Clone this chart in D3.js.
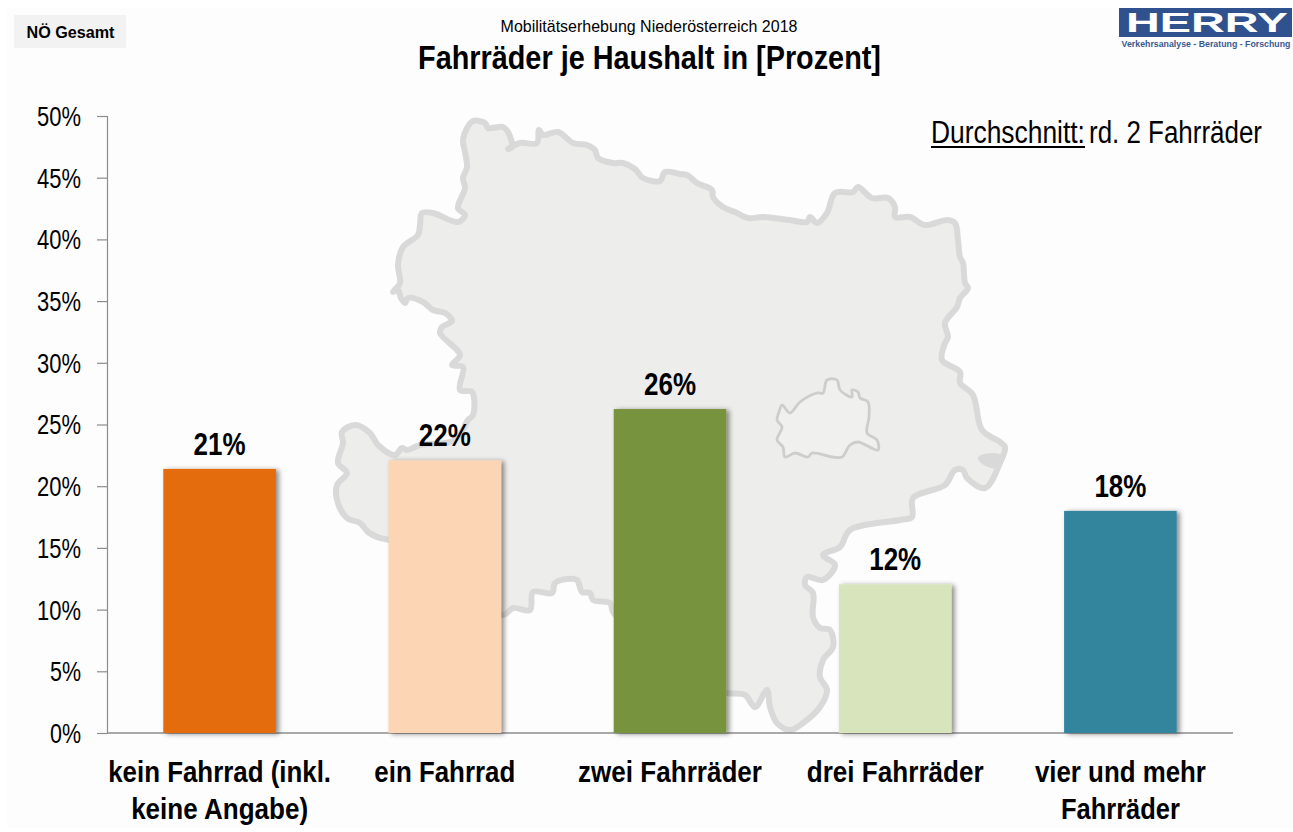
<!DOCTYPE html>
<html><head><meta charset="utf-8">
<script src="https://cdn.jsdelivr.net/npm/d3@7"></script>
<style>html,body{margin:0;padding:0;background:#fff}svg{display:block}text{font-family:"Liberation Sans",Arial,sans-serif;fill:#000}</style>
</head><body><svg id="c" width="1293" height="832"></svg>
<script>
const categories=[["kein Fahrrad (inkl.","keine Angabe)"],["ein Fahrrad"],["zwei Fahrräder"],["drei Fahrräder"],["vier und mehr","Fahrräder"]];
const values=[21.4,22.1,26.25,12.05,18.0];
const valueLabels=["21%","22%","26%","12%","18%"];
const barColors=["#e46c0a","#fcd5b5","#77933c","#d7e4bc","#31859c"];
const yTicks=[0,5,10,15,20,25,30,35,40,45,50];
const stateOutline=[[467,128],[473,121],[485,123],[488,128],[503,127],[508,132],[512,147],[508,149],[520,143],[537,143],[539,130],[543,135],[558,132],[573,143],[587,145],[595,150],[598,158],[613,163],[623,163],[635,169],[643,178],[660,181],[665,172],[680,174],[687,175],[697,183],[712,190],[713,197],[723,207],[735,212],[748,218],[763,217],[790,220],[807,222],[810,217],[817,223],[827,213],[835,193],[853,192],[858,187],[872,198],[888,198],[895,207],[895,217],[910,217],[925,225],[947,220],[955,223],[958,240],[960,257],[963,263],[965,283],[968,288],[960,298],[957,307],[945,323],[948,337],[945,343],[942,360],[960,372],[960,383],[973,395],[982,430],[1000,442],[1005,447],[1000,463],[985,488],[967,478],[963,470],[955,470],[945,485],[913,498],[912,517],[900,520],[850,530],[840,547],[823,555],[835,565],[823,580],[807,577],[805,585],[813,593],[813,617],[820,628],[830,630],[833,647],[823,660],[820,677],[827,690],[820,707],[803,723],[790,730],[777,723],[770,707],[767,690],[755,707],[745,695],[727,693],[680,680],[640,640],[613,612],[610,603],[593,600],[590,593],[582,592],[577,580],[567,579],[555,583],[552,593],[533,592],[530,610],[513,608],[503,615],[450,580],[389,540],[380,538],[368,532],[360,523],[347,518],[337,500],[337,485],[347,473],[338,463],[343,443],[342,432],[355,425],[370,433],[378,445],[395,455],[402,448],[407,450],[420,445],[455,440],[468,420],[473,415],[472,392],[460,390],[463,367],[452,365],[460,355],[440,333],[442,327],[452,321],[445,313],[433,310],[423,302],[408,298],[405,303],[401,298],[398,290],[393,292],[400,283],[398,265],[403,247],[418,235],[420,225],[422,213],[433,213],[458,222],[465,215],[458,208],[465,188],[463,178],[467,167],[465,152],[463,140]];
const viennaOutline=[[782,405],[790,413],[800,402],[817,393],[823,393],[827,380],[837,380],[840,390],[852,397],[852,390],[858,392],[860,398],[868,402],[869,417],[867,433],[877,440],[878,450],[858,442],[850,445],[842,457],[833,457],[812,453],[808,457],[795,453],[785,457],[783,447],[777,440],[782,427],[777,420],[779,412]];
const bratislavaBlob=[[980,458],[999,456],[998,466],[986,464]];

const svg=d3.select("#c");
const defs=svg.append("defs");
const f=defs.append("filter").attr("id","sh").attr("x","-10%").attr("y","-5%").attr("width","125%").attr("height","110%");
f.append("feDropShadow").attr("dx",3).attr("dy",1).attr("stdDeviation",2.8).attr("flood-color","#000").attr("flood-opacity",.45);

svg.append("rect").attr("width",1293).attr("height",832).attr("fill","#fff");
svg.append("rect").attr("x",7).attr("y",8).attr("width",1286).attr("height",820).attr("fill","#fdfdfd");

const x=d3.scaleBand().domain(d3.range(5)).range([107,1233]).paddingInner(0.5).paddingOuter(0.25);
const y=d3.scaleLinear().domain([0,50]).range([733,116]);

const line=d3.line().curve(d3.curveCatmullRomClosed.alpha(0.5));
const map=svg.append("g").attr("stroke-linejoin","round");
map.append("path").attr("d",line(stateOutline)).attr("fill","#edeeeb").attr("stroke","#d9d9d9").attr("stroke-width",6);
map.append("path").attr("d",line(viennaOutline)).attr("fill","#f0f0ef").attr("stroke","#cdcdcd").attr("stroke-width",2.8);
map.append("path").attr("d",line(bratislavaBlob)).attr("fill","#d9d9d9").attr("stroke","#d9d9d9").attr("stroke-width",4);

// Squeezes a text horizontally to its reference width, about its own anchor point.
function squeeze(sel,px,py,len){
  const nat=sel.node().getComputedTextLength();
  sel.attr("x",0).attr("y",0).attr("transform",`translate(${px},${py}) scale(${len/nat},1)`);
  return sel;
}
function label(g,px,py,str,o){
  const t=g.append("text").attr("text-anchor",o.anchor||"middle")
   .attr("font-size",o.size).attr("font-weight",o.weight||"normal").text(str);
  return squeeze(t,px,py,o.len);
}

const axisY=d3.axisLeft(y).tickValues(yTicks).tickSize(10).tickPadding(16).tickFormat(d=>d+"%");
const gy=svg.append("g").attr("transform","translate(107,0)").call(axisY);
gy.selectAll("path,line").attr("stroke","#8c8c8c").attr("stroke-width",1.2);
gy.selectAll("text").attr("font-size",27).attr("dy","0.35em").each(function(d){
  squeeze(d3.select(this),-26,0,d<10?31:44);
});
svg.append("line").attr("x1",107).attr("x2",1233).attr("y1",y(0)).attr("y2",y(0)).attr("stroke","#8c8c8c").attr("stroke-width",1.4);

const bars=svg.append("g");
bars.selectAll("rect").data(values).join("rect")
 .attr("x",(d,i)=>x(i)).attr("y",d=>y(d)).attr("width",x.bandwidth()).attr("height",d=>y(0)-y(d))
 .attr("fill",(d,i)=>barColors[i]).attr("filter","url(#sh)");

values.forEach((v,i)=>label(svg,x(i)+x.bandwidth()/2,y(v)-14,valueLabels[i],{size:31,weight:"bold",len:52}));

const catLens=[[223,177],[141],[184],[177],[171,119]];
categories.forEach((ls,i)=>ls.forEach((s,j)=>label(svg,x(i)+x.bandwidth()/2,782+j*37,s,{size:29,weight:"bold",len:catLens[i][j]})));

label(svg,649,32,"Mobilitätserhebung Niederösterreich 2018",{size:17,len:297});
label(svg,649.5,69,"Fahrräder je Haushalt in [Prozent]",{size:34,weight:"bold",len:463});

const dx=931;
label(svg,dx,143,"Durchschnitt:",{size:31,anchor:"start",len:154});
svg.append("line").attr("x1",dx).attr("x2",dx+154).attr("y1",147).attr("y2",147).attr("stroke","#000").attr("stroke-width",1.8);
label(svg,1089,143,"rd. 2 Fahrräder",{size:31,anchor:"start",len:173});

svg.append("rect").attr("x",14).attr("y",15).attr("width",112).attr("height",33).attr("fill","#f2f2f2");
label(svg,70.5,38,"NÖ Gesamt",{size:17,weight:"bold",len:88});

svg.append("rect").attr("x",1119).attr("y",8).attr("width",173).attr("height",29).attr("fill","#2f528f");
label(svg,1207,32,"HERRY",{size:28,weight:"bold",len:162}).style("fill","#fff");
label(svg,1206,47,"Verkehrsanalyse - Beratung - Forschung",{size:9.5,weight:"bold",len:169}).style("fill","#3a5a8f");
</script></body></html>
